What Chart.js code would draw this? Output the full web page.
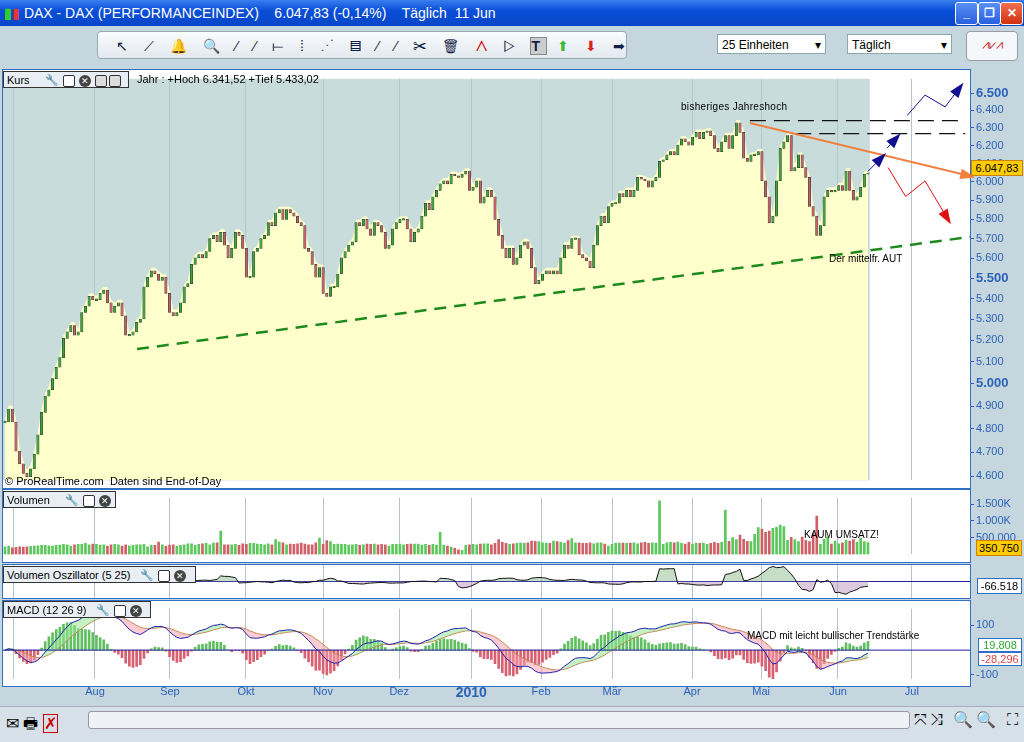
<!DOCTYPE html>
<html><head><meta charset="utf-8">
<script src="https://cdn.jsdelivr.net/npm/chart.js@4.4.1/dist/chart.umd.min.js"></script>
<style>
body{margin:0;width:1024px;height:742px;overflow:hidden;background:#c5d6de;font-family:"Liberation Sans",Arial,sans-serif;position:relative}
.abs{position:absolute}
#title{left:0;top:0;width:1024px;height:26px;background:linear-gradient(#3a7ef0,#0a4fd8 40%,#0846c8);color:#fff;font-size:14px;line-height:26px}
.tb{border:1px solid #fff;border-radius:3px;width:21px;height:21px;top:2px;background:linear-gradient(#5a8ff5,#2860e0);color:#fff;font-size:12px;text-align:center;line-height:20px;font-weight:bold}
#tool{left:97px;top:31px;width:530px;height:28px;border:1px solid #98aab8;border-radius:4px;background:linear-gradient(#fafcfd,#e2e8ee)}
.sel{top:34px;height:20px;background:#fff;border:1px solid #8aa;font-size:12px;line-height:20px;padding-left:4px;box-sizing:border-box}
.panel{background:#fff;border:1px solid #2f6fc4;box-sizing:border-box}
.lab{background:#e8eef4;border:1px solid #333;font-size:11px;height:17px;line-height:16px;padding-left:3px;box-sizing:border-box;color:#000;white-space:nowrap;overflow:hidden}
.ico{display:inline-block;width:10px;height:10px;border:1px solid #333;border-radius:2px;vertical-align:middle;margin-left:4px;background:#fff}
.x{display:inline-block;width:12px;height:12px;border-radius:6px;background:#444;color:#fff;font-size:9px;text-align:center;line-height:12px;vertical-align:middle;margin-left:4px}
canvas{position:absolute;left:0}
</style></head><body>
<div id="title" class="abs"><span style="margin-left:4px;color:#3c3;font-weight:bold">▮</span><span style="color:#e33">▮</span> DAX - DAX (PERFORMANCEINDEX) &nbsp;&nbsp; 6.047,83 (-0,14%) &nbsp;&nbsp; Täglich &nbsp;11 Jun</div>
<div class="abs tb" style="left:955px">_</div><div class="abs tb" style="left:978px">❐</div><div class="abs tb" style="left:1000px;background:linear-gradient(#f07050,#d03010)">✕</div>
<div id="tool" class="abs" style="font-size:14px;line-height:28px;letter-spacing:6px;padding-left:18px;box-sizing:border-box;color:#124;white-space:nowrap;overflow:hidden">↖ ⟋ 🔔 🔍 ⁄ ⁄ ⟝ ⁞ ⋰ ▤ ⁄ ⁄ ✂ 🗑 <span style="color:#c00">⋀</span> ▷ <b style="border:1px solid #888;background:#ccc">T</b> <span style="color:#3b3">⬆</span> <span style="color:#d22">⬇</span> ➡</div>
<div class="abs sel" style="left:717px;width:109px">25 Einheiten <span style="float:right;margin-right:4px">▾</span></div>
<div class="abs sel" style="left:847px;width:105px">Täglich <span style="float:right;margin-right:4px">▾</span></div>
<div class="abs" style="left:966px;top:31px;width:50px;height:28px;border:1px solid #99a;border-radius:4px;background:#f4f8fa;color:#c33;font-size:13px;text-align:center;line-height:26px">⩘⩗⩘</div>

<div class="abs panel" style="left:2px;top:69px;width:969px;height:420px"></div>
<div class="abs panel" style="left:2px;top:489px;width:969px;height:74px"></div>
<div class="abs panel" style="left:2px;top:564px;width:969px;height:35px"></div>
<div class="abs panel" style="left:2px;top:600px;width:969px;height:87px"></div>

<canvas id="cMain" width="1024" height="420" style="top:69px"></canvas>
<canvas id="cVol" width="1024" height="74" style="top:489px"></canvas>
<canvas id="cOsc" width="1024" height="35" style="top:564px"></canvas>
<canvas id="cMacd" width="1024" height="110" style="top:600px"></canvas>

<div class="abs lab" style="left:3px;top:71px;width:126px">Kurs <span style="margin-left:12px">🔧</span><span class="ico"></span><span class="x">✕</span><span class="ico" style="background:#ddd"></span><span class="ico" style="background:#ddd;margin-left:2px"></span></div>
<div class="abs" style="left:137px;top:73px;font-size:11px">Jahr : +Hoch 6.341,52 +Tief 5.433,02</div>
<div class="abs" style="left:5px;top:475px;font-size:11px">© ProRealTime.com &nbsp;Daten sind End-of-Day</div>
<div class="abs" style="left:681px;top:101px;font-size:10px;letter-spacing:0.3px">bisheriges Jahreshoch</div>
<div class="abs" style="left:829px;top:253px;font-size:10px">Der mittelfr. AUT</div>
<div class="abs lab" style="left:3px;top:491px;width:113px">Volumen <span style="margin-left:12px">🔧</span><span class="ico"></span><span class="x">✕</span></div>
<div class="abs" style="left:804px;top:529px;font-size:10px">KAUM UMSATZ!</div>
<div class="abs lab" style="left:3px;top:566px;width:193px">Volumen Oszillator (5 25) <span style="margin-left:6px">🔧</span><span class="ico"></span><span class="x">✕</span></div>
<div class="abs lab" style="left:3px;top:601px;width:148px">MACD (12 26 9) <span style="margin-left:6px">🔧</span><span class="ico"></span><span class="x">✕</span></div>
<div class="abs" style="left:747px;top:630px;font-size:10px">MACD mit leicht bullischer Trendstärke</div>

<div class="abs" style="left:971px;top:160px;width:52px;height:16px;background:#ffcc00;border:1px solid #d08000;font-size:11px;line-height:15px;text-align:center;box-sizing:border-box">6.047,83</div>
<div class="abs" style="left:976px;top:540px;width:46px;height:16px;background:#ffcc00;border:1px solid #d08000;font-size:11px;line-height:15px;text-align:center;box-sizing:border-box">350.750</div>
<div class="abs" style="left:977px;top:578px;width:45px;height:16px;background:#fff;border:1px solid #2f6fc4;font-size:11px;line-height:15px;text-align:center;box-sizing:border-box">-66.518</div>
<div class="abs" style="left:978px;top:638px;width:44px;height:14px;background:#fff;border:1px solid #2f6fc4;font-size:11px;line-height:13px;text-align:center;box-sizing:border-box;color:#3a3">19,808</div>
<div class="abs" style="left:978px;top:652px;width:44px;height:14px;background:#fff;border:1px solid #2f6fc4;font-size:11px;line-height:13px;text-align:center;box-sizing:border-box;color:#d44">-28,296</div>

<div class="abs" style="left:0;top:706px;width:1024px;height:36px;background:#d6e0e8;border-top:1px solid #aab"></div>
<div class="abs" style="left:6px;top:712px;font-size:16px">✉ 🖶 <span style="border:1px solid #c00;color:#c00">✗</span></div>
<div class="abs" style="left:88px;top:711px;width:820px;height:16px;background:#eef2f6;border:1px solid #99a;border-radius:3px"></div>
<div class="abs" style="left:914px;top:710px;font-size:16px;letter-spacing:3px;white-space:nowrap">⤧⤨ 🔍🔍 ⛶</div>

<script>
// ---- data ----
const closes = [
4830,4887,4830,4705,4651,4611,4597,4630,4692,4774,
4872,4944,4973,5023,5075,5119,5209,5240,5270,5224,
5240,5332,5363,5410,5394,5394,5425,5441,5379,5332,
5363,5379,5316,5224,5224,5240,5285,5301,5457,5505,
5537,5521,5489,5505,5425,5332,5316,5332,5379,5457,
5473,5569,5602,5618,5602,5634,5700,5717,5684,5733,
5667,5602,5650,5733,5717,5650,5505,5505,5634,5650,
5700,5717,5783,5767,5834,5851,5800,5851,5834,5817,
5783,5767,5650,5634,5569,5505,5553,5425,5410,5457,
5457,5521,5602,5634,5667,5684,5783,5767,5800,5750,
5717,5783,5767,5733,5650,5667,5750,5783,5800,5800,
5750,5684,5733,5750,5817,5885,5851,5919,5954,5989,
6006,5989,6041,6033,6024,6041,6059,5954,5971,6006,
5885,5919,5954,
5919,5800,5717,5650,5602,5650,5569,5602,5667,5684,
5650,5553,5473,5489,5521,5537,5521,5537,5521,5602,
5667,5650,5700,5700,5618,5602,5586,5553,5667,5767,
5817,5783,5868,5885,5885,5937,5919,5954,5919,5954,
6024,6015,6006,5971,6006,6024,6112,6121,6148,6166,
6148,6202,6238,6220,6202,6247,6274,6238,6274,6283,
6256,6184,6166,6220,6256,6184,6256,6329,6274,6130,
6112,6148,6148,6166,6006,5919,5783,5817,6006,6184,
6220,6256,6059,6077,6148,6077,6024,5868,5817,5717,
5767,5919,5954,5946,5954,5980,5954,6059,5954,5902,
5919,5971,6041,6048];
const volumeK = [
230,240,200,210,230,220,230,240,250,260,270,270,260,250,270,280,300,290,250,290,
300,300,330,290,310,300,280,290,250,290,300,290,250,290,260,270,290,290,300,230,
270,270,370,290,250,280,290,250,270,290,320,320,270,300,320,330,290,340,350,700,
290,290,290,300,270,320,300,330,330,310,300,290,320,290,440,370,350,290,310,300,
320,340,310,290,290,350,490,300,410,380,300,310,300,300,280,290,300,270,290,310,
300,310,290,300,290,250,300,300,310,290,300,310,310,310,280,300,
270,300,280,660,270,250,220,180,140,120,270,290,300,290,310,320,320,290,330,440,
360,330,300,320,330,340,330,350,400,390,380,350,340,330,400,380,360,340,410,470,
350,350,330,330,350,320,340,350,310,250,300,330,340,340,330,340,350,320,350,360,
330,350,340,1600,300,350,360,350,370,330,310,360,300,340,330,340,300,330,360,330,
360,1330,390,500,440,580,450,390,380,600,800,760,660,700,780,810,880,830,420,510,
440,380,520,420,380,640,1150,300,450,520,310,400,320,350,420,400,440,370,490,380,351];
const monthLabels = ["", "Aug","Sep","Okt","Nov","Dez","2010","Feb","Mär","Apr","Mai","Jun","Jul"];
const monthIdx    = [2.2, 24.6,45.1,65.9,87.0,107.8,127.5,146.6,166.0,187.9,206.8,227.8,248.0];
const priceTicks = [4600,4700,4800,4900,5000,5100,5200,5300,5400,5500,5600,5700,5800,5900,6000,6100,6200,6300,6400,6500];
const volTicks = [500000,1000000,1500000];
const volTickLabels = ["500.000","1.000K","1.500K"];
// drawn trend lines (day index, price)
const supportLine = [[36.1,5159],[263.9,5709]];
const resistLine  = [[203.7,6327],[263.9,6031]];
const highLine1   = [[203.7,6341],[262.6,6341]];
const highLine2   = [[216.1,6267],[262.6,6267]];
const blueArrow1  = [[246.7,6370],[251.6,6489],[257.1,6420],[261.2,6536]];
const blueArrow2  = [[236,6057],[239.9,6137]];
const blueArrow3  = [[241.2,6185],[243.9,6245]];
const redArrow    = [[241.5,6078],[246.3,5921],[251.6,6005],[257.9,5799]];

const N = closes.length;
const XMIN=-0.55, XMAX=263.9, LASTX=N-1;
const pts = a=>a.map(p=>({x:p[0],y:p[1]}));
const blue='#2b62b8';

function fixX(s){s.width=54;}
const xScale = (show)=>({type:'linear',min:XMIN,max:XMAX,offset:false,
  afterBuildTicks:s=>{s.ticks=monthIdx.map(v=>({value:v}));},
  grid:{color:'#b4c4cc',drawTicks:false,offset:false},border:{display:false},
  ticks:{display:show,autoSkip:false,maxRotation:0,color:blue,padding:6,
    callback:(v,i)=>monthLabels[i],
    font:c=>monthLabels[c.index]==='2010'?{size:14,weight:'bold',family:'Liberation Sans'}:{size:11,family:'Liberation Sans'}}});
const yRight = (extra)=>Object.assign({position:'right',afterFit:fixX,border:{color:'#2f6fc4'},
  grid:{drawOnChartArea:false,color:blue,tickLength:4},
  ticks:{color:blue,font:{size:11,family:'Liberation Sans'},padding:2}},extra);
const base = {responsive:false,animation:false,events:[],plugins:{legend:{display:false},tooltip:{enabled:false}}};

const bgPlugin={id:'bg',beforeDraw(c,a,o){if(!o.on)return;const {ctx,chartArea:ca,scales}=c;const xl=scales.x.getPixelForValue(LASTX+0.5);
  ctx.save();ctx.fillStyle='#c9dcdc';ctx.fillRect(ca.left,ca.top,xl-ca.left,ca.bottom-ca.top);ctx.restore();}};
const arrowPlugin={id:'arr',afterDatasetsDraw(c){const {ctx}=c;c.data.datasets.forEach((d,i)=>{if(!d.arrow)return;const m=c.getDatasetMeta(i).data;const p=m[m.length-1],q=m[m.length-2];
  const ang=Math.atan2(p.y-q.y,p.x-q.x),L=d.arrow;ctx.save();ctx.fillStyle=d.borderColor;ctx.beginPath();
  ctx.moveTo(p.x+Math.cos(ang)*L*0.5,p.y+Math.sin(ang)*L*0.5);
  ctx.lineTo(p.x-Math.cos(ang-0.5)*L,p.y-Math.sin(ang-0.5)*L);ctx.lineTo(p.x-Math.cos(ang+0.5)*L,p.y-Math.sin(ang+0.5)*L);ctx.closePath();ctx.fill();ctx.restore();});}};

const opens = closes.map((c,i)=>i?closes[i-1]:c);
const up = closes.map((c,i)=>c>=opens[i]);
const lineDs=(arr,color,w,dash,arrow)=>({type:'line',data:pts(arr),borderColor:color,borderWidth:w,borderDash:dash||[],pointRadius:0,fill:false,arrow:arrow||0,order:0});

new Chart(document.getElementById('cMain'),{type:'bar',
 data:{datasets:[
  {type:'line',data:closes.map((c,i)=>({x:i,y:Math.max(c,opens[i])+15})),borderWidth:0,pointRadius:0,fill:'start',backgroundColor:'#ffffcc',order:5},
  {type:'bar',data:closes.map((c,i)=>({x:i,y:c===opens[i]?[c-4,c+4]:[opens[i],c]})),barThickness:2.4,
    backgroundColor:up.map(u=>u?'#44a044':'#c06070'),borderColor:'#203020',borderWidth:0.5,borderSkipped:false,order:2},
  lineDs(supportLine,'#1e8a1e',2.5,[12,8]),
  lineDs(resistLine,'#f08040',2,[], 11),
  lineDs(highLine1,'#111',1.2,[16,8]),
  lineDs(highLine2,'#111',1.2,[16,8]),
  lineDs(blueArrow1,'#101090',1,[],11),
  lineDs(blueArrow2,'#101090',1,[],11),
  lineDs(blueArrow3,'#101090',1,[],11),
  lineDs(redArrow,'#e01010',1,[],11)
 ]},
 options:Object.assign({},base,{layout:{padding:{left:3,top:1,bottom:1,right:0}},
  plugins:Object.assign({},base.plugins,{bg:{on:true}}),
  scales:{x:xScale(false),
   y:yRight({type:'logarithmic',min:4582,max:6585,afterBuildTicks:s=>{s.ticks=priceTicks.map(v=>({value:v}));},
     ticks:{color:blue,padding:2,callback:v=>v.toLocaleString('de-DE'),
       font:c=>{const v=c.tick&&c.tick.value;return (v===5000||v===5500||v===6500)?{size:13,weight:'bold',family:'Liberation Sans'}:{size:11,family:'Liberation Sans'};}}})}}),
 plugins:[bgPlugin,arrowPlugin]});

new Chart(document.getElementById('cVol'),{type:'bar',
 data:{datasets:[{data:volumeK.map((v,i)=>({x:i,y:v*1000})),barThickness:2,backgroundColor:up.map(u=>u?'#5cc85c':'#d06068')}]},
 options:Object.assign({},base,{layout:{padding:{left:3,top:1,bottom:2}},
  scales:{x:xScale(false),y:yRight({min:0,max:1700000,afterBuildTicks:s=>{s.ticks=volTicks.map(v=>({value:v}));},
    ticks:{color:blue,font:{size:11,family:'Liberation Sans'},padding:2,callback:(v,i)=>volTickLabels[i]}})}})});

const sma=(a,n,i)=>{let s=0,k=0;for(let j=Math.max(0,i-n+1);j<=i;j++){s+=a[j];k++;}return s/k;};
const osc = volumeK.map((v,i)=>(sma(volumeK,5,i)-sma(volumeK,25,i))*1000);
const om=Math.max(...osc.map(Math.abs))*1.1;
new Chart(document.getElementById('cOsc'),{type:'line',
 data:{datasets:[{data:osc.map((v,i)=>({x:i,y:v})),borderColor:'#111',borderWidth:1,pointRadius:0,
   fill:{target:'origin',above:'rgba(140,190,140,0.5)',below:'rgba(190,150,190,0.5)'}},
   {data:[{x:XMIN,y:0},{x:XMAX,y:0}],borderColor:'#2020a0',borderWidth:1,pointRadius:0}]},
 options:Object.assign({},base,{layout:{padding:{left:3,top:1,bottom:1}},
  scales:{x:xScale(false),y:yRight({min:-om,max:om,ticks:{display:false},grid:{display:false}})}})});

const ema=(a,n)=>{const k=2/(n+1);const o=[];a.forEach((v,i)=>o.push(i?v*k+o[i-1]*(1-k):v));return o;};
const e12=ema(closes,12),e26=ema(closes,26);
const macd=e12.map((v,i)=>v-e26[i]);const sig=ema(macd,9);const hist=macd.map((v,i)=>v-sig[i]);
new Chart(document.getElementById('cMacd'),{type:'bar',
 data:{datasets:[
  {type:'line',data:macd.map((v,i)=>({x:i,y:v})),borderColor:'#2020b0',borderWidth:1,pointRadius:0,
    fill:{target:1,above:'rgba(150,230,150,0.55)',below:'rgba(245,160,170,0.55)'},order:1},
  {type:'line',data:sig.map((v,i)=>({x:i,y:v})),borderColor:'#c07840',borderWidth:1,pointRadius:0,fill:false,order:1},
  {type:'bar',data:hist.map((v,i)=>({x:i,y:v*2})),barThickness:2,backgroundColor:hist.map(h=>h>=0?'#60c060':'#d86070'),order:3},
  {type:'line',data:[{x:XMIN,y:0},{x:XMAX,y:0}],borderColor:'#2020a0',borderWidth:1,pointRadius:0,order:0}
 ]},
 options:Object.assign({},base,{layout:{padding:{left:3,top:1,bottom:2}},
  scales:{x:xScale(true),y:yRight({min:-117,max:167,afterBuildTicks:s=>{s.ticks=[-100,100].map(v=>({value:v}));}})}})});
</script>
</body></html>
